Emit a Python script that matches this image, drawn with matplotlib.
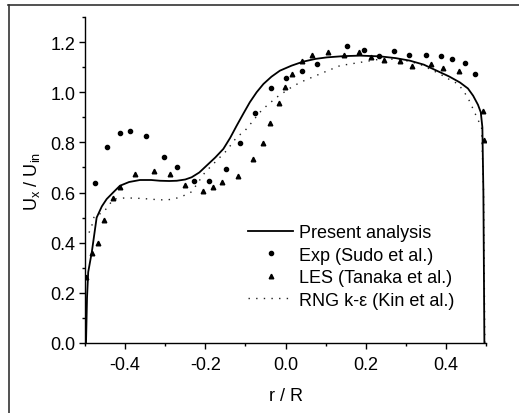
import matplotlib.pyplot as plt
from matplotlib.ticker import MultipleLocator
from matplotlib.lines import Line2D

plt.rcParams['font.family'] = ['Liberation Sans', 'DejaVu Sans']
plt.rcParams['mathtext.default'] = 'regular'

# Present analysis (solid line)
r_present = [-0.4975, -0.495, -0.492, -0.483, -0.471, -0.458, -0.446, -0.430, -0.413,
             -0.390, -0.363, -0.335, -0.313, -0.290, -0.271, -0.250, -0.234, -0.215,
             -0.197, -0.175, -0.155, -0.138, -0.122, -0.105, -0.089, -0.072, -0.055,
             -0.035, -0.014, 0.015, 0.044, 0.075, 0.103, 0.145, 0.186, 0.236, 0.275,
             0.310, 0.345, 0.377, 0.408, 0.435, 0.455, 0.468, 0.480, 0.487, 0.491,
             0.4935, 0.496]
u_present = [0.0, 0.18, 0.283, 0.363, 0.50, 0.545, 0.574, 0.600, 0.627,
             0.642, 0.650, 0.650, 0.647, 0.646, 0.647, 0.652, 0.661, 0.680,
             0.707, 0.740, 0.774, 0.818, 0.866, 0.915, 0.960, 1.000, 1.033,
             1.062, 1.086, 1.106, 1.122, 1.133, 1.139, 1.144, 1.146, 1.143, 1.136,
             1.126, 1.110, 1.086, 1.063, 1.039, 1.015, 0.986, 0.950, 0.920, 0.860,
             0.60, 0.0]

# Exp (Sudo et al.)
r_exp = [-0.475, -0.446, -0.413, -0.387, -0.349, -0.304, -0.271, -0.227, -0.192,
         -0.149, -0.114, -0.076, -0.036, 0.002, 0.042, 0.078, 0.153, 0.195, 0.232,
         0.271, 0.309, 0.350, 0.389, 0.414, 0.448, 0.472]
u_exp = [0.638, 0.781, 0.837, 0.844, 0.824, 0.743, 0.700, 0.647, 0.647,
         0.692, 0.799, 0.916, 1.016, 1.058, 1.086, 1.111, 1.183, 1.167, 1.146,
         1.163, 1.148, 1.150, 1.146, 1.132, 1.118, 1.074]

# LES (Tanaka et al.)
r_les = [-0.497, -0.483, -0.467, -0.452, -0.429, -0.413, -0.375, -0.329, -0.289,
         -0.250, -0.206, -0.182, -0.159, -0.118, -0.082, -0.056, -0.039, -0.016,
         -0.002, 0.017, 0.042, 0.065, 0.107, 0.147, 0.184, 0.213, 0.246, 0.286,
         0.315, 0.362, 0.394, 0.432, 0.492, 0.496]
u_les = [0.262, 0.359, 0.398, 0.492, 0.578, 0.623, 0.674, 0.686, 0.674,
         0.631, 0.605, 0.621, 0.641, 0.667, 0.735, 0.799, 0.876, 0.957,
         1.019, 1.073, 1.123, 1.148, 1.159, 1.148, 1.159, 1.140, 1.130, 1.124,
         1.106, 1.111, 1.098, 1.086, 0.924, 0.809]

# RNG k-eps (Kin et al.)
r_rng = [-0.490, -0.483, -0.477, -0.454, -0.429, -0.404, -0.380, -0.355, -0.323,
         -0.296, -0.271, -0.250, -0.234, -0.201, -0.172, -0.147, -0.122, -0.101,
         -0.084, -0.064, -0.047, -0.022, 0.011, 0.036, 0.086, 0.136, 0.186, 0.236,
         0.286, 0.335, 0.385, 0.414, 0.431, 0.454, 0.467, 0.478, 0.489, 0.494, 0.497]
u_rng = [0.440, 0.468, 0.506, 0.521, 0.574, 0.578, 0.578, 0.576, 0.572,
         0.570, 0.578, 0.590, 0.603, 0.680, 0.727, 0.767, 0.820, 0.847,
         0.880, 0.920, 0.946, 0.980, 1.016, 1.039, 1.073, 1.106, 1.119, 1.132,
         1.132, 1.112, 1.073, 1.046, 1.033, 0.981, 0.936, 0.897, 0.860, 0.60, 0.0]

xtick_vals = [-0.4, -0.2, 0.0, 0.2, 0.4]
xtick_labels = ['-0.4', '-0.2', '0.0', '0.2', '0.4']
ytick_vals = [0.0, 0.2, 0.4, 0.6, 0.8, 1.0, 1.2]
ytick_labels = ['0.0', '0.2', '0.4', '0.6', '0.8', '1.0', '1.2']

fig = plt.figure(figsize=(5.19, 4.14), dpi=100)
ax = fig.add_axes([0.1638, 0.1691, 0.7726, 0.7874])

ax.plot(r_present, u_present, color='black', lw=1.3, label='Present analysis', zorder=4)
ax.plot(r_exp, u_exp, 'o', color='black', ms=3.0, label='Exp (Sudo et al.)', zorder=3)
ax.plot(r_les, u_les, '^', color='black', ms=3.3, label='LES (Tanaka et al.)', zorder=3)
ax.plot(r_rng, u_rng, color='#222222', lw=1.0, linestyle=(0, (1, 4.5)),
        label='RNG k-\u03b5 (Kin et al.)', zorder=2)

ax.set_xlim(-0.5, 0.5)
ax.set_ylim(0, 1.3)
ax.xaxis.set_minor_locator(MultipleLocator(0.1))
ax.yaxis.set_minor_locator(MultipleLocator(0.1))
ax.set_xticks(xtick_vals)
ax.set_xticklabels(xtick_labels)
ax.set_yticks(ytick_vals)
ax.set_yticklabels(ytick_labels)

for s in ['top', 'right']:
    ax.spines[s].set_visible(False)
for s in ['left', 'bottom']:
    ax.spines[s].set_linewidth(1.0)
ax.tick_params(axis='x', which='major', direction='out', length=4, width=1.0, labelsize=13, pad=5.5)
ax.tick_params(axis='y', which='major', direction='out', length=4, width=1.0, labelsize=13, pad=3)
ax.tick_params(which='minor', direction='out', length=2.5, width=1.0)

ax.set_xlabel('r / R', fontsize=13, labelpad=10)
ax.set_ylabel('U$_x$ / U$_{in}$', fontsize=13, labelpad=6)

ax.legend(loc='center left', bbox_to_anchor=(0.4065, 0.2347), frameon=False,
          fontsize=13, borderpad=0, borderaxespad=0, handlelength=2.5,
          handletextpad=0.3, labelspacing=0.3)

# outer frame (top and left edges of the original figure box)
fig.add_artist(Line2D([8/519, 1.0], [1 - 6/414, 1 - 6/414], color='#333333', lw=1.2,
                      transform=fig.transFigure))
fig.add_artist(Line2D([9/519, 9/519], [0.0, 1 - 6/414], color='#333333', lw=1.2,
                      transform=fig.transFigure))

fig.savefig('out.png', dpi=100)
